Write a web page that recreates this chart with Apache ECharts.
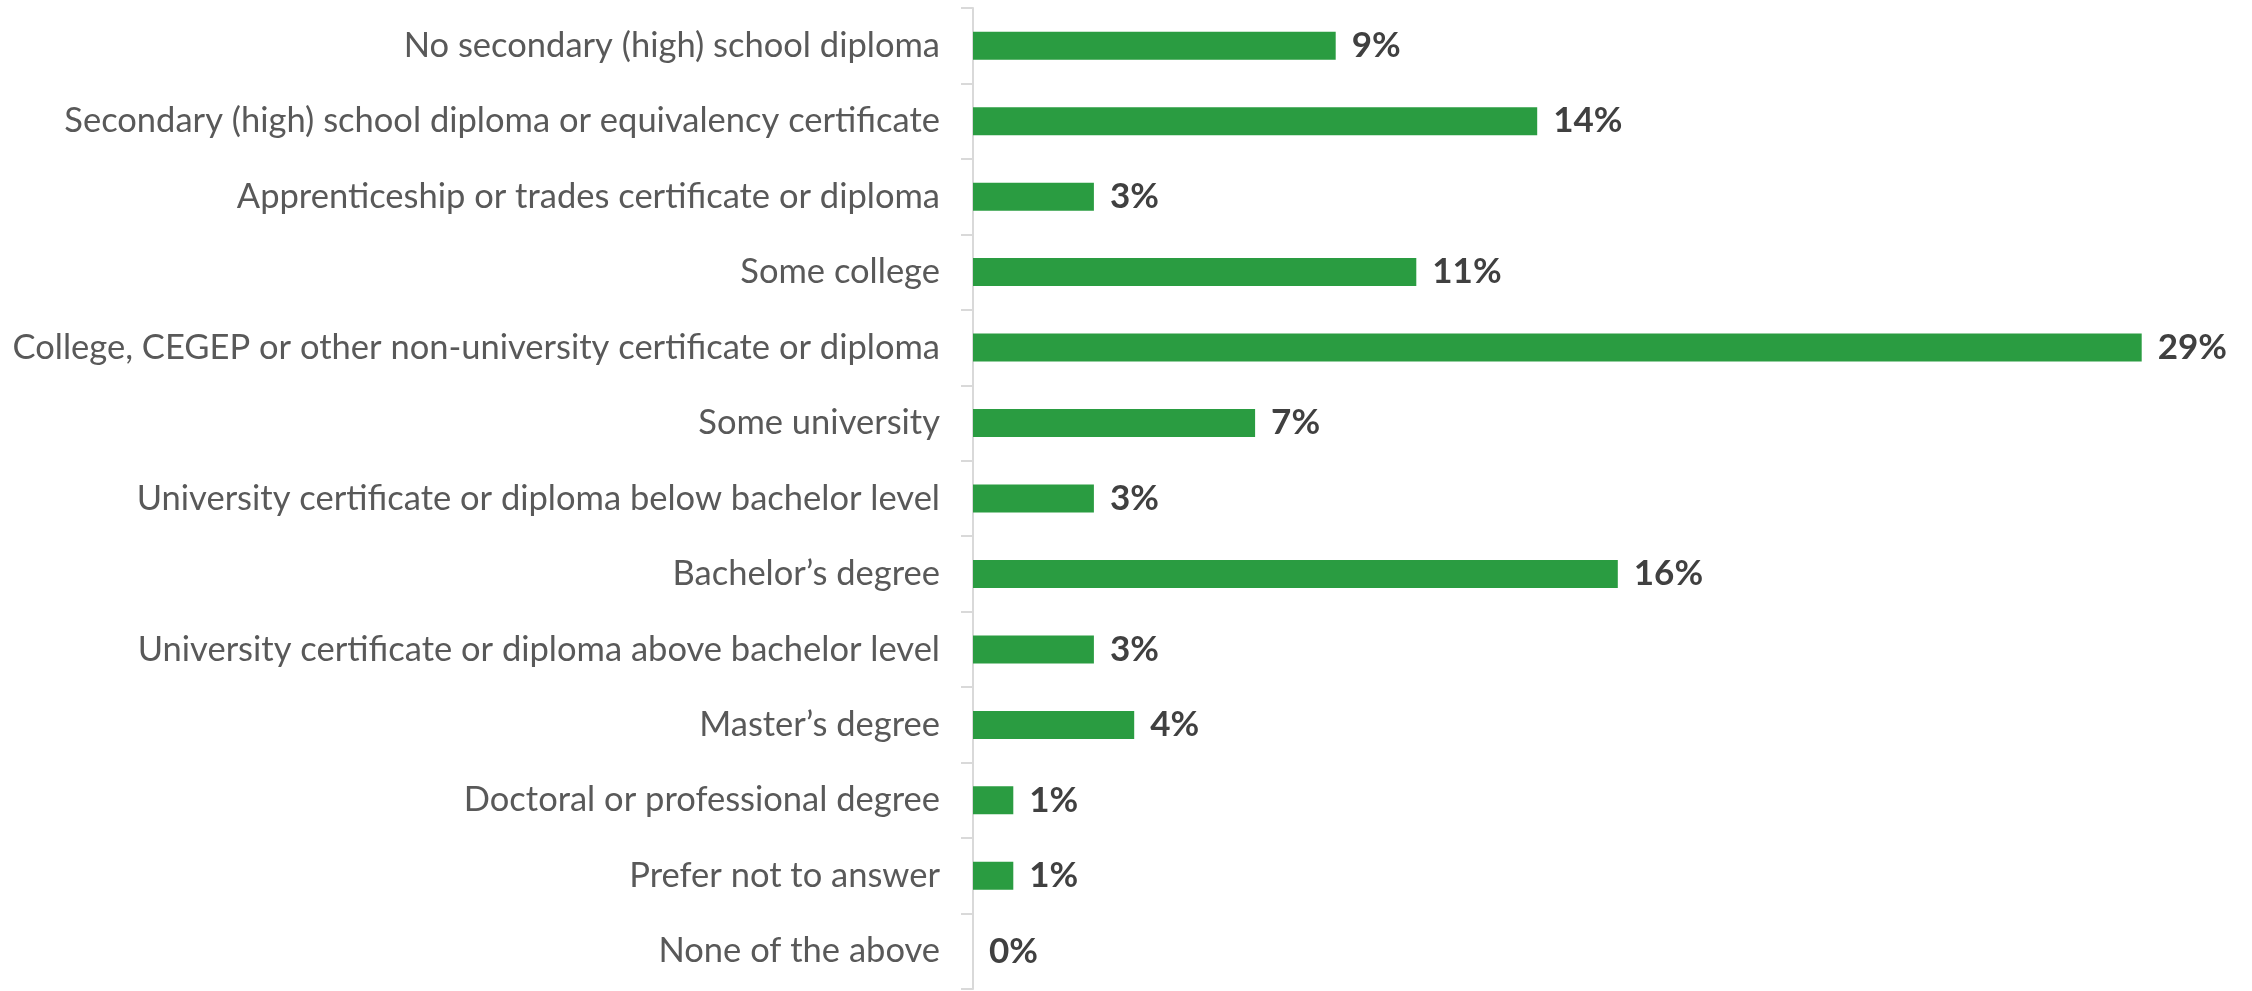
<!DOCTYPE html>
<html>
<head>
<meta charset="utf-8">
<script src="https://cdn.jsdelivr.net/npm/echarts@6/dist/echarts.min.js"></script>
<style>
html,body{margin:0;padding:0;background:#fff;}
#chart{width:2252px;height:991px;}
</style>
</head>
<body>
<div id="chart"></div>
<script>
const categories = [
  "No secondary (high) school diploma",
  "Secondary (high) school diploma or equivalency certificate",
  "Apprenticeship or trades certificate or diploma",
  "Some college",
  "College, CEGEP or other non-university certificate or diploma",
  "Some university",
  "University certificate or diploma below bachelor level",
  "Bachelor\u2019s degree",
  "University certificate or diploma above bachelor level",
  "Master\u2019s degree",
  "Doctoral or professional degree",
  "Prefer not to answer",
  "None of the above"
];
const values = [9, 14, 3, 11, 29, 7, 3, 16, 3, 4, 1, 1, 0];

const chart = echarts.init(document.getElementById('chart'));
chart.setOption({
  animation: false,
  backgroundColor: '#ffffff',
  grid: { left: 973, right: 70, top: 8, bottom: 2, containLabel: false },
  xAxis: {
    type: 'value', min: 0, max: 30, show: false,
    splitLine: { show: false }
  },
  yAxis: {
    type: 'category', data: categories, inverse: true,
    axisLine: { show: true, lineStyle: { color: '#d9d9d9', width: 2 } },
    axisTick: { show: true, length: 12, lineStyle: { color: '#d9d9d9', width: 2 } },
    axisLabel: { color: '#595959', fontFamily: 'Lato', fontSize: 34.5, margin: 33 }
  },
  series: [{
    type: 'bar', data: values, barWidth: 28,
    itemStyle: { color: '#2a9c41' },
    label: {
      show: true, position: 'right', distance: 16,
      formatter: p => p.value + '%',
      color: '#404040', fontFamily: 'Lato', fontWeight: 'bold', fontSize: 35
    }
  }]
});
</script>
</body>
</html>
